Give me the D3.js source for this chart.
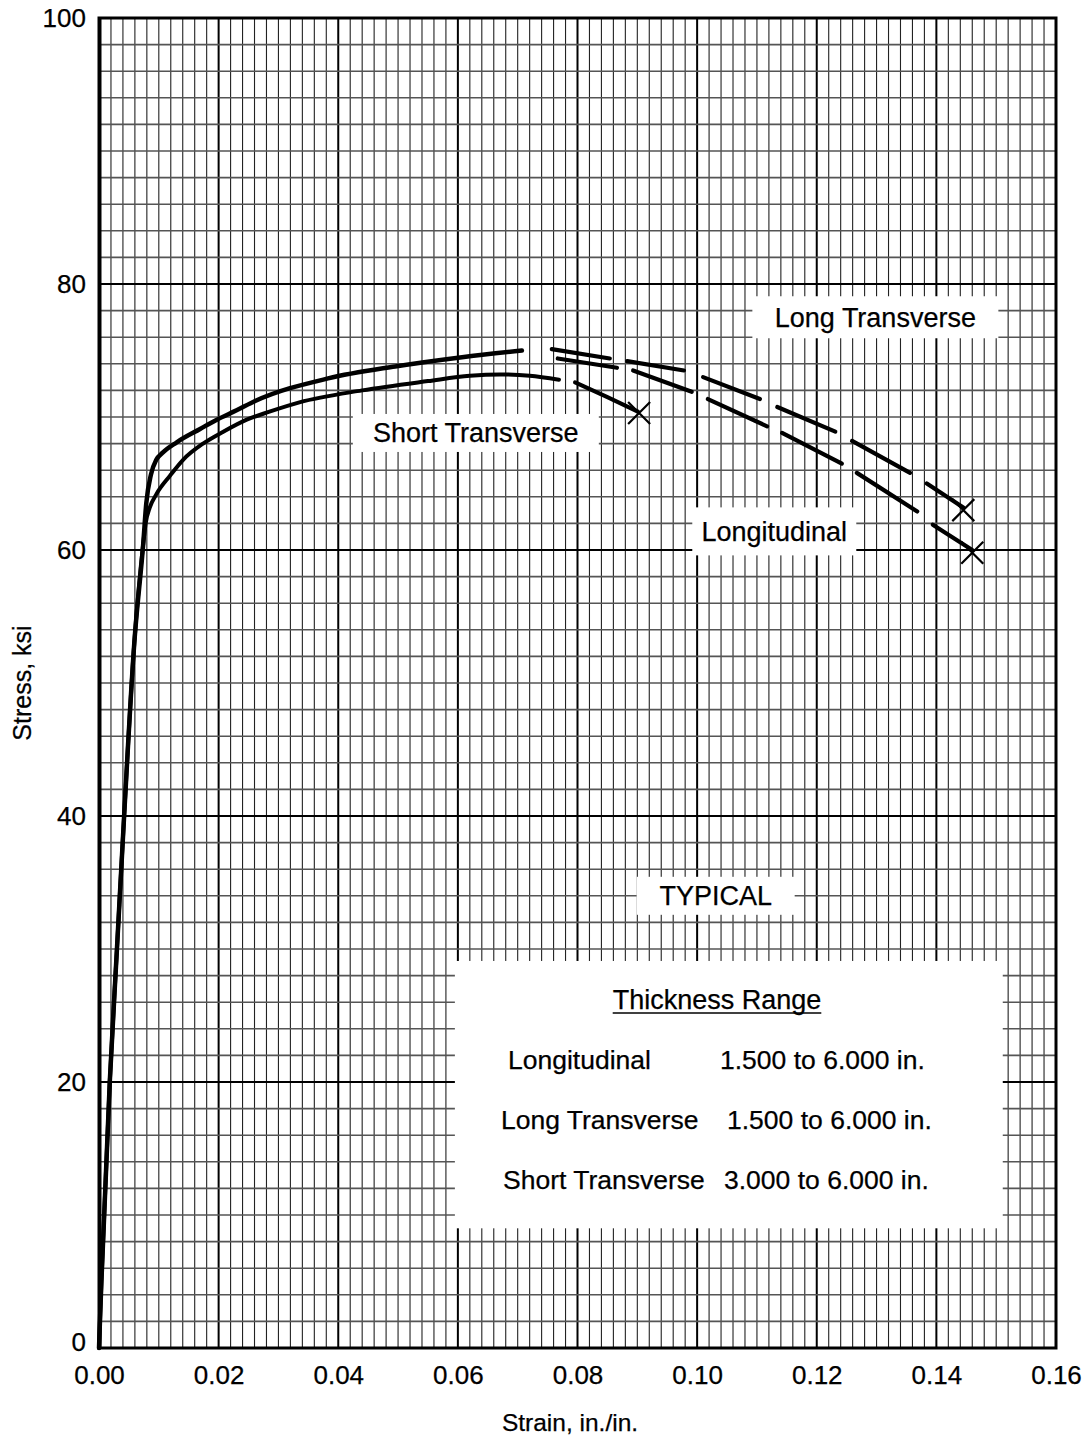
<!DOCTYPE html>
<html>
<head>
<meta charset="utf-8">
<script src="https://cdn.jsdelivr.net/npm/d3@7"></script>
<style>
  body { margin: 0; background: #fff; }
  text { font-family: 'Liberation Sans', Arial, sans-serif; fill: #000; stroke: #000; stroke-width: 0.25; }
</style>
</head>
<body>
<div id="chart"></div>
<script>
const W = 1086
const H = 1439

// tick labels
const xTicks = [0, 0.02, 0.04, 0.06, 0.08, 0.1, 0.12, 0.14, 0.16]
const yTicks = [0, 20, 40, 60, 80, 100]

// solid part shared by Longitudinal and Long Transverse (strain, stress)
const upperSolid = [
  [0, 0], [0.0004, 5], [0.0018, 20], [0.0030, 30], [0.0042, 40], [0.0059, 53],
  [0.0074, 60.5], [0.0079, 63.5], [0.0087, 65.7], [0.0096, 66.8], [0.0106, 67.3],
  [0.013, 68.1], [0.0169, 69.1], [0.0197, 69.8], [0.023, 70.5], [0.0261, 71.2],
  [0.0383, 72.9], [0.0495, 73.8], [0.0607, 74.5], [0.0707, 75.0]
]

const shortSolid = [
  [0, 0], [0.0004, 5], [0.0018, 20], [0.0030, 30], [0.0042, 40], [0.0059, 53],
  [0.0074, 60.5], [0.0078, 62], [0.0085, 63.2], [0.0096, 64.2], [0.0119, 65.6],
  [0.0141, 66.8], [0.0174, 68.0], [0.0208, 68.9], [0.0247, 69.8], [0.0285, 70.4],
  [0.0335, 71.1], [0.044, 72.0], [0.055, 72.7], [0.062, 73.1], [0.067, 73.2],
  [0.072, 73.1], [0.0769, 72.8]
]

// dashed continuations, one array per dash
const longTransDashes = [
  [[0.0757, 75.1], [0.0854, 74.4]],
  [[0.0883, 74.2], [0.0978, 73.5]],
  [[0.101, 73.0], [0.1105, 71.35]],
  [[0.1134, 70.75], [0.1231, 68.9]],
  [[0.1259, 68.2], [0.1356, 65.8]],
  [[0.1384, 65.0], [0.1445, 63.2]]
]

const longitudinalDashes = [
  [[0.0767, 74.4], [0.0866, 73.7]],
  [[0.0893, 73.5], [0.0991, 71.9]],
  [[0.1018, 71.35], [0.1117, 69.3]],
  [[0.1142, 68.8], [0.1242, 66.5]],
  [[0.1267, 65.8], [0.1368, 62.9]],
  [[0.1394, 61.9], [0.146, 60.0]]
]

const shortTransDashes = [
  [[0.0796, 72.6], [0.085, 71.5], [0.0901, 70.4]]
]

// fracture points
const breaks = [[0.0903, 70.3], [0.1445, 63.0], [0.1460, 59.8]]

const curveLabels = [
  { text: 'Long Transverse', x: 0.1298, y: 77.5, w: 246, h: 42 },
  { text: 'Short Transverse', x: 0.0630, y: 68.8, w: 246, h: 38 },
  { text: 'Longitudinal', x: 0.1129, y: 61.4, w: 164, h: 48 },
  { text: 'TYPICAL', x: 0.1031, y: 34.0, w: 158, h: 38 }
]

const rangeNames = ['Longitudinal', 'Long Transverse', 'Short Transverse']
const rangeValues = ['1.500 to 6.000 in.', '1.500 to 6.000 in.', '3.000 to 6.000 in.']

const plotL = 99, plotR = 1056, plotT = 18, plotB = 1348

const x = d3.scaleLinear().domain([0, 0.16]).range([plotL, plotR])
const y = d3.scaleLinear().domain([0, 100]).range([plotB, plotT])

const svg = d3.select('#chart').append('svg').attr('width', W).attr('height', H)
svg.append('rect').attr('width', W).attr('height', H).attr('fill', '#fff')

// grid
const grid = svg.append('g')
d3.range(0, 0.1601, 0.002).forEach((v, i) => {
  const major = i % 10 === 0
  grid.append('line')
    .attr('x1', x(v)).attr('x2', x(v)).attr('y1', plotT).attr('y2', plotB)
    .attr('stroke', major ? '#000' : '#222')
    .attr('stroke-width', major ? 2 : 1.1)
})
d3.range(0, 101, 2).forEach((v, i) => {
  const major = i % 10 === 0
  grid.append('line')
    .attr('x1', plotL).attr('x2', plotR).attr('y1', y(v)).attr('y2', y(v))
    .attr('stroke', major ? '#000' : '#555')
    .attr('stroke-width', major ? 2 : 1.6)
})

// border
svg.append('rect')
  .attr('x', plotL).attr('y', plotT)
  .attr('width', plotR - plotL).attr('height', plotB - plotT)
  .attr('fill', 'none').attr('stroke', '#000').attr('stroke-width', 3)
svg.append('line')
  .attr('x1', plotL + 1).attr('x2', plotL + 1).attr('y1', plotT).attr('y2', plotB)
  .attr('stroke', '#000').attr('stroke-width', 3)

// axes
const xAxis = svg.append('g')
  .attr('transform', `translate(0,${plotB + 15})`)
  .call(d3.axisBottom(x).tickValues(xTicks).tickSize(0).tickFormat(d3.format('.2f')))
xAxis.select('.domain').remove()
xAxis.selectAll('text').attr('font-size', 26).attr('font-family', 'Liberation Sans, Arial')

const yAxis = svg.append('g')
  .attr('transform', `translate(${plotL - 10},0)`)
  .call(d3.axisLeft(y).tickValues(yTicks).tickSize(0))
yAxis.select('.domain').remove()
yAxis.selectAll('text').attr('font-size', 26).attr('font-family', 'Liberation Sans, Arial')
yAxis.selectAll('.tick').filter((d) => d === 0).select('text').attr('dy', '0.1em')

svg.append('text')
  .attr('x', 570).attr('y', 1431)
  .attr('text-anchor', 'middle').attr('font-size', 24.5)
  .text('Strain, in./in.')

svg.append('text')
  .attr('transform', `translate(31,${(plotT + plotB) / 2}) rotate(-90)`)
  .attr('text-anchor', 'middle').attr('font-size', 25)
  .text('Stress, ksi')

// curves
const line = d3.line().x((d) => x(d[0])).y((d) => y(d[1]))
const smooth = d3.line().x((d) => x(d[0])).y((d) => y(d[1])).curve(d3.curveMonotoneX)

const curves = svg.append('g').attr('fill', 'none').attr('stroke', '#000')
  .attr('stroke-linecap', 'round').attr('stroke-linejoin', 'round')

curves.append('path').attr('d', smooth(upperSolid)).attr('stroke-width', 4.5)
curves.append('path').attr('d', smooth(shortSolid)).attr('stroke-width', 4)

;[longTransDashes, longitudinalDashes, shortTransDashes].forEach((dashes) => {
  dashes.forEach((seg) => {
    curves.append('path').attr('d', line(seg)).attr('stroke-width', 4.2)
  })
})

// fracture marks
breaks.forEach(([bx, by]) => {
  const cx = x(bx), cy = y(by), s = 11
  curves.append('path')
    .attr('d', `M${cx - s},${cy - s}L${cx + s},${cy + s}M${cx - s},${cy + s}L${cx + s},${cy - s}`)
    .attr('stroke-width', 2.2).attr('stroke-linecap', 'butt')
})

// labels on white boxes
curveLabels.forEach((d) => {
  svg.append('rect')
    .attr('x', x(d.x) - d.w / 2).attr('y', y(d.y) - d.h / 2)
    .attr('width', d.w).attr('height', d.h).attr('fill', '#fff')
  svg.append('text')
    .attr('x', x(d.x)).attr('y', y(d.y))
    .attr('dy', '0.35em').attr('text-anchor', 'middle').attr('font-size', 27)
    .text(d.text)
})

// thickness range table
const box = { x0: 0.0595, x1: 0.1511, y0: 29.1, y1: 9.0 }
svg.append('rect')
  .attr('x', x(box.x0)).attr('y', y(box.y0))
  .attr('width', x(box.x1) - x(box.x0)).attr('height', y(box.y1) - y(box.y0))
  .attr('fill', '#fff')

const tableTitle = svg.append('text')
  .attr('x', 717).attr('y', 1009)
  .attr('text-anchor', 'middle').attr('font-size', 27)
  .text('Thickness Range')
const tw = tableTitle.node().getComputedTextLength()
svg.append('line')
  .attr('x1', 717 - tw / 2).attr('x2', 717 + tw / 2)
  .attr('y1', 1013).attr('y2', 1013)
  .attr('stroke', '#000').attr('stroke-width', 1.6)

const nameX = [508, 501, 503]
const valX = [720, 727, 724]
rangeNames.forEach((n, i) => {
  const ty = 1069 + i * 60
  svg.append('text').attr('x', nameX[i]).attr('y', ty).attr('font-size', 26.5).text(n)
  svg.append('text').attr('x', valX[i]).attr('y', ty).attr('font-size', 26.5).text(rangeValues[i])
})
</script>
</body>
</html>
